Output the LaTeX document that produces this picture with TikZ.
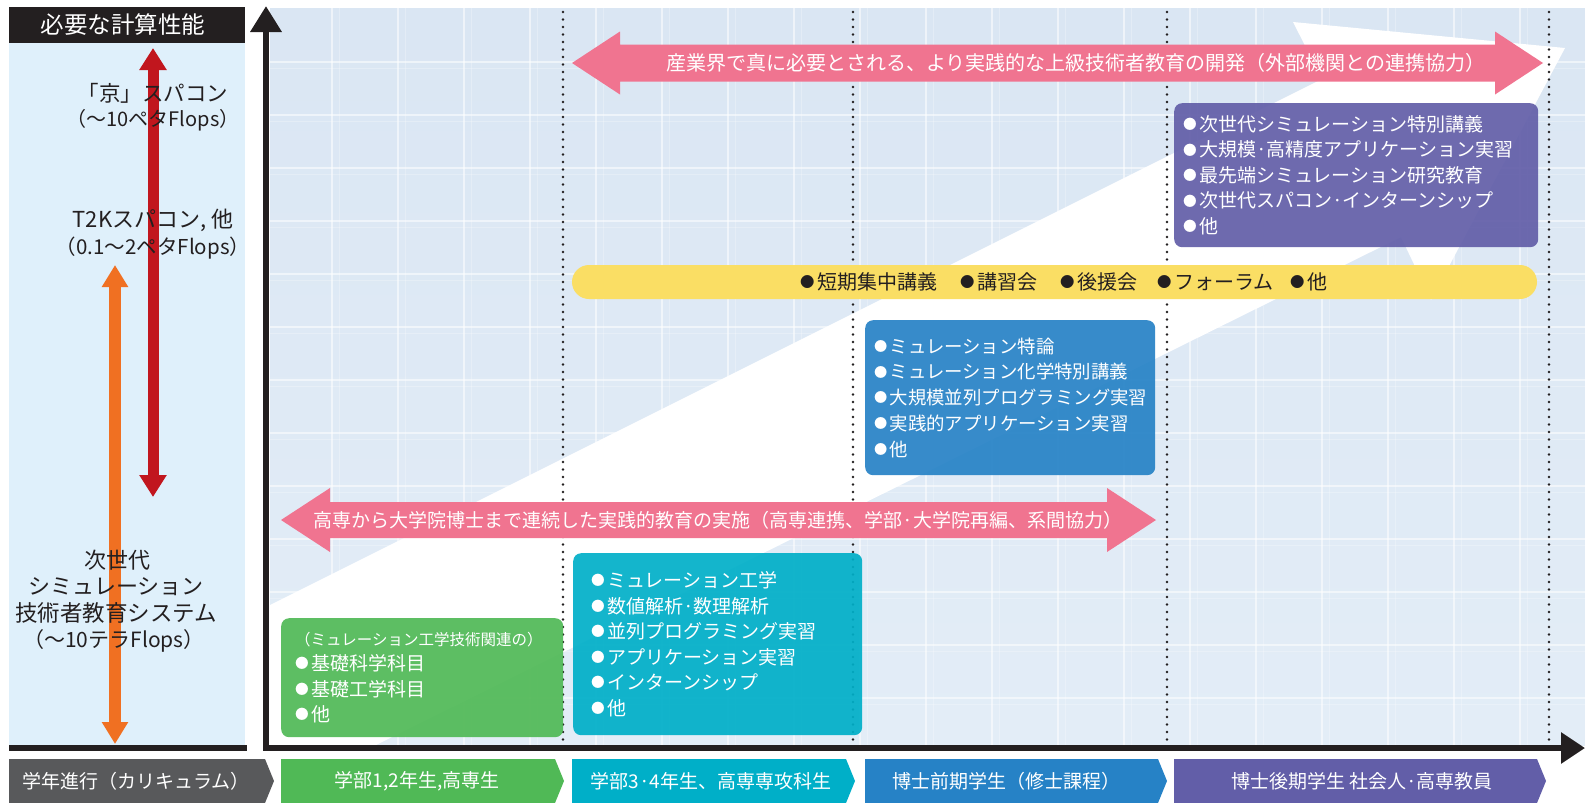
\documentclass[tikz,border=0pt]{standalone}
\usepackage{fontspec}
\setmainfont{Noto Sans CJK JP}
\usetikzlibrary{arrows.meta}
\definecolor{pinkA}{RGB}{240,116,144}
\definecolor{yellowA}{RGB}{250,222,100}
\definecolor{purpleA}{RGB}{98,94,168}
\definecolor{blueA}{RGB}{38,130,198}
\definecolor{cyanA}{RGB}{0,175,200}
\definecolor{greenA}{RGB}{80,185,86}
\definecolor{grayA}{RGB}{88,89,91}
\definecolor{panelA}{RGB}{223,240,251}
\definecolor{bgTop}{RGB}{218,230,243}
\definecolor{bgBot}{RGB}{227,237,247}
\definecolor{inkA}{RGB}{35,31,32}
\definecolor{redA}{RGB}{193,22,30}
\definecolor{orangeA}{RGB}{240,112,34}
\newcommand\bul{\raisebox{0.1em}{\scalebox{0.72}{●}}\kern0.12em}
\newcommand\dblarrow[6]{%
\fill[pinkA] (#1,#3) -- (#1+#4,#3-#5) -- (#1+#4,#3-#6) -- (#2-#4,#3-#6) -- (#2-#4,#3-#5) -- (#2,#3) -- (#2-#4,#3+#5) -- (#2-#4,#3+#6) -- (#1+#4,#3+#6) -- (#1+#4,#3+#5) -- cycle;}
\newcommand\chev[3]{\fill[#3] (#1,759) -- (#2-9,759) -- (#2,781) -- (#2-9,803) -- (#1,803) -- cycle;}
\tikzset{
  lefttxt/.style={inner sep=0, text=inkA},
  boxA/.style={rounded corners=8, fill opacity=0.92, text opacity=1, text=white, align=left, anchor=north west, inner ysep=0, font=\fontsize{19}{25.5}\selectfont},
  chevtxt/.style={text=white, inner sep=0, font=\fontsize{19}{22}\selectfont},
  arrtxt/.style={text=white, inner sep=0},
  yeltxt/.style={text=inkA, inner sep=0, anchor=west, font=\fontsize{20}{22}\selectfont},
  dotline/.style={line width=2.6, dash pattern=on 0pt off 7.5pt, line cap=round, inkA},
  axisline/.style={line width=6.5, inkA, line join=miter}
}
\begin{document}
\begin{tikzpicture}[x=1pt,y=-1pt]
\useasboundingbox (0,0) rectangle (1585,803);
\fill[white] (0,0) rectangle (1585,803);
% left panel
\fill[panelA] (9,43) rectangle (245,745);
\fill[inkA] (9,7) rectangle (245,43);
\fill[inkA] (9,745) rectangle (247,751);
\node[text=white, inner sep=0, font=\fontsize{23.5}{26}\selectfont] (head) at (123,25) {必要な計算性能};
% chart background
\begin{scope}
\clip (270,8) rectangle (1585,745);
\shade[top color=bgTop, bottom color=bgBot] (270,8) rectangle (1585,745);
\foreach \y in {62,115,168,221,274,327,380,433,486,539,592,645,698}{
  \draw[white, opacity=0.55, line width=2] (270,\y) -- (1585,\y);
  \draw[white, opacity=0.25, line width=1] (270,\y+6) -- (1585,\y+6);}
\foreach \x in {332,398,464,530,596,662,728,794,860,926,992,1058,1124,1190,1256,1322,1388,1454,1520}{
  \draw[white, opacity=0.55, line width=2] (\x,8) -- (\x,745);
  \draw[white, opacity=0.25, line width=1] (\x+7,8) -- (\x+7,745);}
\fill[white] (270,605) -- (1322,79) -- (1293,22) -- (1565,48) -- (1431,300) -- (1401,237) -- (370,748) -- (270,798) -- cycle;
\end{scope}
% dotted lines
\foreach \x in {563,853,1167,1549}{\draw[dotline] (\x,12) -- (\x,742);}
% axes
\coordinate (ytip) at (266,6);
\coordinate (corner) at (266,748);
\coordinate (xtip) at (1585,748);
\draw[axisline, {Triangle[length=26pt,width=30pt]}-{Triangle[length=24pt,width=30pt]}] (ytip) -- (corner) -- (xtip);
% left arrows
\coordinate (redtop) at (153,48); \coordinate (redbot) at (153,497);
\draw[line width=11, redA, {Triangle[length=22pt,width=26pt]}-{Triangle[length=22pt,width=26pt]}] (redtop) -- (redbot);
\coordinate (ortop) at (115,265); \coordinate (orbot) at (115,744);
\draw[line width=12, orangeA, {Triangle[length=22pt,width=25pt]}-{Triangle[length=22pt,width=25pt]}] (ortop) -- (orbot);
% left texts
\node[lefttxt, font=\fontsize{21.5}{24}\selectfont] (kei) at (153,93) {「京」スパコン};
\node[lefttxt, font=\fontsize{20}{22}\selectfont] (keiF) at (153,120) {（～10ペタFlops）};
\node[lefttxt, font=\fontsize{22}{24}\selectfont] (t2k) at (153,220) {T2Kスパコン, 他};
\node[lefttxt, font=\fontsize{20.5}{22}\selectfont] (t2kF) at (153,248) {（0.1～2ペタFlops）};
\node[lefttxt, font=\fontsize{22}{24}\selectfont] (nx1) at (117,560) {次世代};
\node[lefttxt, font=\fontsize{22}{24}\selectfont] (nx2) at (116,587) {シミュレーション};
\node[lefttxt, font=\fontsize{22.5}{24}\selectfont] (nx3) at (116,613) {技術者教育システム};
\node[lefttxt, font=\fontsize{21}{22}\selectfont] (nx4) at (114,641) {（～10テラFlops）};
% pink arrows
\dblarrow{572}{1543}{63}{48}{31.5}{18.5}
\node[arrtxt, font=\fontsize{20}{24}\selectfont] (topArrow) at (1076,63) {産業界で真に必要とされる、より実践的な上級技術者教育の開発（外部機関との連携協力）};
\dblarrow{281}{1156}{520}{49}{32}{18}
\node[arrtxt, font=\fontsize{19}{22}\selectfont] (lowArrow) at (718,520) {高専から大学院博士まで連続した実践的教育の実施（高専連携、学部·大学院再編、系間協力）};
% yellow bar
\fill[yellowA, rounded corners=17] (572,265) rectangle (1537,299);
\node[yeltxt] (y1) at (800,282) {\bul 短期集中講義};
\node[yeltxt] (y2) at (960,282) {\bul 講習会};
\node[yeltxt] (y3) at (1060,282) {\bul 後援会};
\node[yeltxt] (y4) at (1157,282) {\bul フォーラム};
\node[yeltxt] (y5) at (1290,282) {\bul 他};
% boxes
\node[boxA, fill=purpleA, minimum width=364, minimum height=144, text width=346, inner xsep=9] (pbox) at (1174,103)
 {\bul 次世代シミュレーション特別講義\\\bul 大規模·高精度アプリケーション実習\\\bul 最先端シミュレーション研究教育\\\bul 次世代スパコン·インターンシップ\\\bul 他};
\node[boxA, fill=blueA, minimum width=290, minimum height=155, text width=272, inner xsep=9, font=\fontsize{18.4}{25.8}\selectfont] (bbox) at (865,320)
 {\bul ミュレーション特論\\\bul ミュレーション化学特別講義\\\bul 大規模並列プログラミング実習\\\bul 実践的アプリケーション実習\\\bul 他};
\node[boxA, fill=cyanA, minimum width=273, minimum height=182, text width=253, inner xsep=18] (cbox) at (573,553)
 {\bul ミュレーション工学\\\bul 数値解析·数理解析\\\bul 並列プログラミング実習\\\bul アプリケーション実習\\\bul インターンシップ\\\bul 他};
\node[boxA, fill=greenA, minimum width=272, minimum height=119, text width=254, inner xsep=14] (gbox) at (281,618)
 {{\fontsize{15.5}{25}\selectfont （ミュレーション工学技術関連の）}\\\bul 基礎科学科目\\\bul 基礎工学科目\\\bul 他};
% bottom chevrons
\chev{9}{274}{grayA}
\chev{281}{564}{greenA}
\chev{572}{855}{cyanA}
\chev{865}{1167}{blueA}
\chev{1174}{1546}{purpleA}
\node[chevtxt] (c1) at (136,781) {学年進行（カリキュラム）};
\node[chevtxt] (c2) at (417,781) {学部1,2年生,高専生};
\node[chevtxt] (c3) at (711,781) {学部3·4年生、高専専攻科生};
\node[chevtxt] (c4) at (1006,781) {博士前期学生（修士課程）};
\node[chevtxt] (c5) at (1362,781) {博士後期学生 社会人·高専教員};
\end{tikzpicture}
\end{document}
